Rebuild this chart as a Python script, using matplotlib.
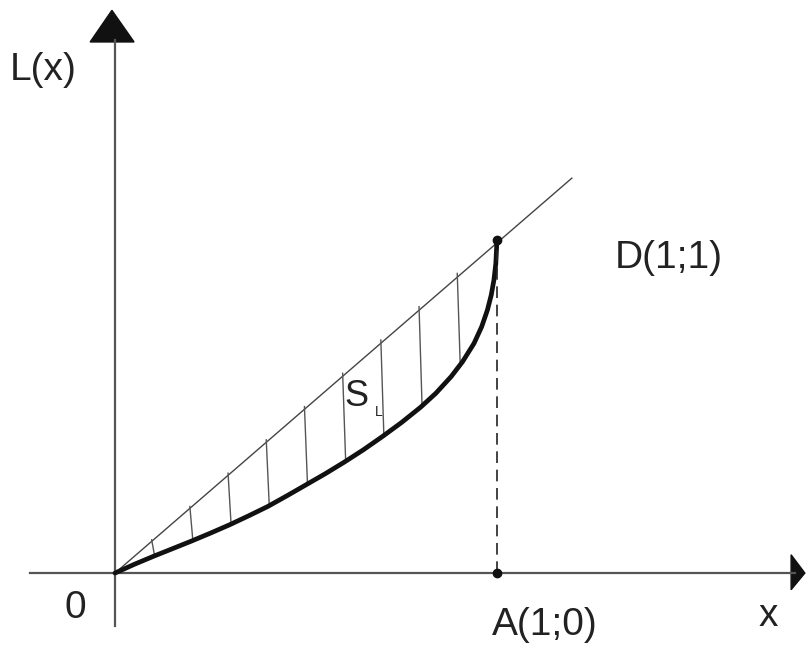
import matplotlib.pyplot as plt
from matplotlib.patches import Polygon

# Lorenz curve points (share of population, share of income)
lx = [0, 0.05, 0.1, 0.15, 0.2, 0.25, 0.3, 0.35, 0.4, 0.45, 0.5, 0.55, 0.6, 0.65, 0.7,
      0.75, 0.8, 0.84, 0.88, 0.91, 0.94, 0.96, 0.975, 0.985, 0.992, 0.997, 1.0]
ly = [0, 0.026, 0.05, 0.073, 0.096, 0.12, 0.145, 0.172, 0.2, 0.232, 0.265, 0.298, 0.333,
      0.37, 0.41, 0.452, 0.498, 0.54, 0.59, 0.635, 0.69, 0.74, 0.79, 0.835, 0.88, 0.93, 1.0]

# hatch positions and the curve value under each
hx = [0.1, 0.2, 0.3, 0.4, 0.5, 0.6, 0.7, 0.8, 0.9]
hy = [0.05, 0.096, 0.145, 0.2, 0.265, 0.333, 0.41, 0.498, 0.62]

plt.rcParams['font.family'] = ['Liberation Sans', 'DejaVu Sans']
fig = plt.figure(figsize=(8.06, 6.47), dpi=100)
ax = fig.add_axes([0, 0, 1, 1])
ax.set_xlim(-0.301, 1.809)
ax.set_ylim(-0.222, 1.721)
ax.axis('off')

axc = '#555555'
# axes lines
ax.plot([-0.223, 1.78], [0, 0], color=axc, lw=1.6)
ax.plot([0, 0], [-0.16, 1.6], color=axc, lw=1.6)
ax.add_patch(Polygon([[1.77, 0.055], [1.77, -0.05], [1.806, 0.0]], closed=True, color='#111111'))
ax.add_patch(Polygon([[-0.065, 1.595], [0.05, 1.595], [-0.008, 1.69]], closed=True, color='#111111'))

# diagonal (line of equality)
ax.plot([0, 1.196], [0, 1.186], color='#444444', lw=1.0)

# hatching
for x, y in zip(hx, hy):
    ax.plot([x - 0.004, x + 0.004], [x, y], color='#555555', lw=1.0)

# Lorenz curve
ax.plot(lx, ly, color='#111111', lw=3.4, solid_capstyle='round', solid_joinstyle='round')

# dashed line A-D and points
ax.plot([1, 1], [0, 1], color='#222222', lw=1.2, ls=(0, (7, 4)))
ax.plot([1, 1], [0, 1], 'o', color='#111111', ms=6)

fs = 28
tc = '#222222'
ax.text(-0.275, 1.51, 'L(x)', fontsize=fs, ha='left', va='center', color=tc)
ax.text(-0.105, -0.105, '0', fontsize=fs, ha='center', va='center', color=tc)
ax.text(1.125, -0.155, 'A(1;0)', fontsize=fs, ha='center', va='center', color=tc)
ax.text(1.71, -0.13, 'x', fontsize=fs, ha='center', va='center', color=tc)
ax.text(1.45, 0.945, 'D(1;1)', fontsize=fs, ha='center', va='center', color=tc)
ax.text(0.6, 0.53, 'S', fontsize=26, ha='left', va='center', color=tc)
ax.text(0.68, 0.485, 'L', fontsize=10, ha='left', va='center', color=tc)

fig.savefig('out.png', dpi=100)
